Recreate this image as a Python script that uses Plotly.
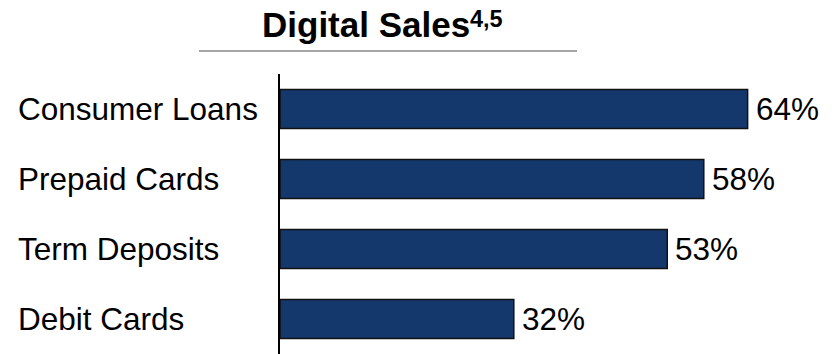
import plotly.graph_objects as go

categories = ["Consumer Loans", "Prepaid Cards", "Term Deposits", "Debit Cards"]
values = [64, 58, 53, 32]
labels = [f"{v}%" for v in values]
title_text = "Digital Sales"
title_notes = "4,5"

FONT = "Liberation Sans, Arial, sans-serif"

fig = go.Figure(go.Bar(
    x=values, y=categories, orientation="h",
    marker=dict(color="#14376C", line=dict(color="#111111", width=1.5)),
    width=0.56,
    hoverinfo="x+y",
))

annotations = []
for c in categories:
    annotations.append(dict(
        xref="paper", yref="y", x=-0.481, y=c, text=c, showarrow=False,
        xanchor="left", yanchor="middle",
        font=dict(family=FONT, size=31.5, color="#000000"),
    ))
for c, v, t in zip(categories, values, labels):
    annotations.append(dict(
        xref="x", yref="y", x=v, y=c, text=t, showarrow=False,
        xanchor="left", yanchor="middle", xshift=6,
        font=dict(family=FONT, size=31.5, color="#000000"),
    ))
# superscript footnote marks of the title
annotations.append(dict(
    xref="paper", yref="paper", x=(468-280)/548, y=1+(74-19)/280,
    text=f"<b>{title_notes}</b>", showarrow=False,
    xanchor="left", yanchor="middle",
    font=dict(family=FONT, size=23.5, color="#000000"),
))

fig.update_layout(
    width=835, height=354,
    margin=dict(l=280, r=7, t=74, b=0),
    paper_bgcolor="white", plot_bgcolor="white",
    showlegend=False,
    title=dict(text=f"<b>{title_text}</b>",
               font=dict(family=FONT, size=35, color="#000000"),
               x=262/835, xanchor="left", xref="container",
               y=1-25/354, yanchor="middle", yref="container"),
    xaxis=dict(range=[0, 75], visible=False, fixedrange=True),
    yaxis=dict(autorange="reversed", showticklabels=False, ticks="",
               showline=True, linecolor="#000000", linewidth=1.5,
               showgrid=False, zeroline=False, fixedrange=True),
    annotations=annotations,
    shapes=[dict(type="line", xref="paper", yref="paper",
                 x0=(199-280)/548, x1=(577-280)/548,
                 y0=1+(74-51)/280, y1=1+(74-51)/280,
                 line=dict(color="#A6A6A6", width=2))],
)

fig.write_html("out.html", config={"displayModeBar": False},
               post_script="document.body.style.margin='0';")
